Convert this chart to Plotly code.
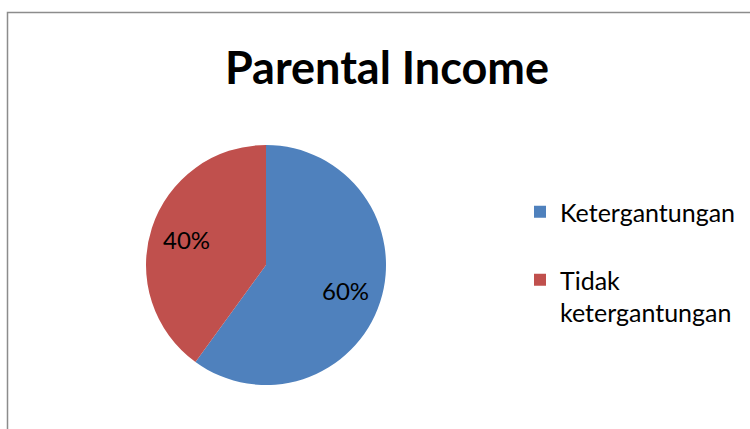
import math
import plotly.graph_objects as go

labels = ["Ketergantungan", "Tidak<br>ketergantungan"]
values = [60, 40]
colors = ["#4F81BD", "#C0504D"]
title_text = "Parental Income"

W, H = 750, 429
cx, cy, r = 266, 265, 120
font = "Lato"

# legend entries: extra blank line after the first entry to reproduce the spacing
legend_text = [labels[0] + "<br> ", labels[1]]

fig = go.Figure(go.Pie(
    labels=legend_text, values=values, sort=False, direction="clockwise", rotation=0,
    marker=dict(colors=colors, line=dict(width=0)),
    textinfo="none",
    customdata=[l.replace("<br>", " ") for l in labels],
    hovertemplate="%{customdata}: %{percent}<extra></extra>",
    domain=dict(x=[(cx - r) / W, (cx + r) / W], y=[1 - (cy + r) / H, 1 - (cy - r) / H]),
))

# percentage labels at the middle angle of each slice
total = sum(values)
start = 0.0
annotations = []
for v in values:
    mid = start + v / total * 360 / 2
    start += v / total * 360
    a = math.radians(mid)
    px = cx + 0.7 * r * math.sin(a)
    py = cy - 0.7 * r * math.cos(a)
    annotations.append(dict(text=f"{round(v / total * 100)}%", x=px / W, y=1 - py / H,
                            xref="paper", yref="paper", xanchor="center", yanchor="middle",
                            showarrow=False,
                            font=dict(family=font, size=24, color="black")))

fig.update_layout(
    width=W, height=H, margin=dict(l=0, r=0, t=0, b=0),
    paper_bgcolor="white", plot_bgcolor="white",
    title=dict(text="<b>" + title_text + "</b>", x=387 / W, xanchor="center",
               y=1 - 68 / H, yanchor="middle",
               font=dict(family=font, size=45, color="black")),
    legend=dict(x=520 / W, y=1 - 189 / H, xanchor="left", yanchor="top",
                valign="top", itemwidth=30,
                font=dict(family=font, size=25, color="black")),
    annotations=annotations,
    shapes=[dict(type="rect", xref="paper", yref="paper",
                 x0=7.5 / W, x1=1.05, y0=-0.05, y1=1 - 12.5 / H,
                 line=dict(color="#8c8c8c", width=1.5), fillcolor="rgba(0,0,0,0)")],
)

fig.write_html("out.html")
